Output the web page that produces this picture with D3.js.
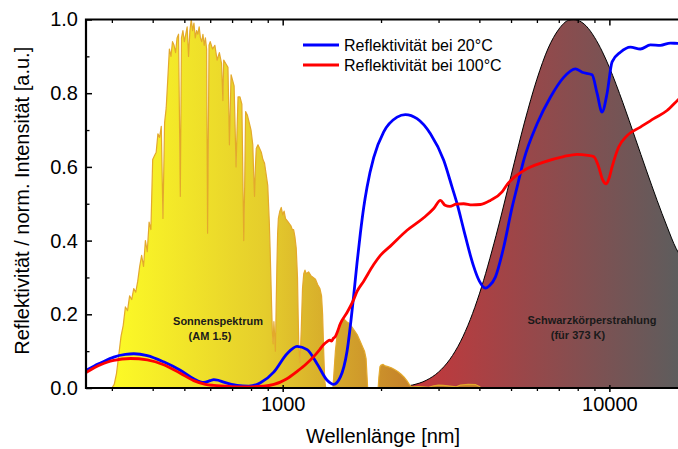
<!DOCTYPE html>
<html><head><meta charset="utf-8">
<script src="https://cdn.jsdelivr.net/npm/d3@7"></script>
<style>
body{margin:0;background:#fff;}
svg{display:block;font-family:"Liberation Sans",Arial,Helvetica,sans-serif;}
</style>
</head><body>
<svg id="chart" width="678" height="449"></svg>
<script>
// ---------- data ----------
const solarWavelength = [280,300,305,310,315,320,325,330,335,340,345,350,355,360,365,370,375,380,385,390,395,
  400,405,410,415,420,425,430,435,440,445,450,455,460,465,470,475,480,486,490,495,500,505,510,515,520,525,530,535,540,545,550,555,560,565,570,575,580,585,589,595,600,
  610,620,630,640,650,656,660,670,680,687,695,700,710,720,725,730,740,750,760,765,770,780,790,800,810,815,820,825,830,840,850,860,870,880,890,900,905,910,915,920,925,930,935,940,945,950,955,960,965,970,980,990,
  1000,1010,1020,1030,1040,1050,1060,1070,1080,1090,1100,1110,1115,1120,1130,1140,1150,1160,1170,1180,1200,1220,1240,1260,1280,1300,1315,1325,1335,1345,1355,
  1425,1435,1450,1470,1490,1510,1530,1550,1570,1600,1630,1660,1690,1720,1750,1780,1800,1810,1820,
  1960,1970,1985,2000,2030,2060,2100,2150,2200,2250,2300,2350,2400,2440,2480,2600,2800,2900,3000,3100,3200,3400,3500,3700,3900,4000,4050];
const solarIntensity = [0,0,0.01,0.04,0.09,0.14,0.17,0.22,0.21,0.25,0.24,0.27,0.26,0.29,0.33,0.36,0.33,0.40,0.37,0.45,0.43,
  0.62,0.63,0.64,0.69,0.68,0.71,0.46,0.72,0.76,0.84,0.92,0.90,0.94,0.93,0.91,0.95,0.96,0.52,0.95,0.97,0.94,0.96,0.98,0.90,0.97,1.0,0.97,0.99,0.95,0.97,0.96,0.98,0.95,0.94,0.96,0.93,0.95,0.92,0.42,0.93,0.94,
  0.92,0.93,0.89,0.91,0.88,0.78,0.89,0.88,0.87,0.66,0.85,0.84,0.82,0.60,0.70,0.79,0.79,0.77,0.40,0.55,0.75,0.74,0.72,0.70,0.66,0.58,0.52,0.60,0.65,0.66,0.65,0.64,0.62,0.61,0.58,0.55,0.50,0.45,0.38,0.30,0.22,0.15,0.12,0.18,0.14,0.10,0.22,0.33,0.42,0.46,0.48,0.49,
  0.47,0.48,0.46,0.455,0.45,0.445,0.44,0.43,0.43,0.41,0.38,0.30,0.20,0.12,0.07,0.16,0.27,0.31,0.32,0.31,0.315,0.305,0.30,0.295,0.28,0.27,0.25,0.20,0.10,0.02,0,
  0,0.04,0.10,0.15,0.17,0.18,0.19,0.185,0.18,0.175,0.165,0.155,0.145,0.13,0.115,0.10,0.08,0.04,0,
  0,0.03,0.058,0.062,0.064,0.06,0.058,0.055,0.05,0.045,0.038,0.03,0.02,0.01,0.003,0.004,0.002,0.006,0.008,0.007,0.006,0.003,0.008,0.01,0.009,0.004,0];

const blackbodyWavelength = [2000,2200,2500,2750,3000,3250,3500,3750,4000,4500,5000,5500,6000,6500,7000,7500,7770,8000,8500,9000,9500,10000,11000,12000,13000,14000,15000,16000,16450];
const blackbodyIntensity  = [0.0005,0.0019,0.0082,0.0208,0.0433,0.0779,0.1256,0.1855,0.2554,0.414,0.576,0.7217,0.838,0.9226,0.9735,0.998,1.0,0.998,0.982,0.952,0.914,0.870,0.774,0.678,0.589,0.509,0.439,0.379,0.36];

const blueWavelength = [250,265,277,304,330,350,385,432,486,534,573,600,615,635,660,725,787,855,939,1031,1107,1188,1274,1368,1433,1502,1574,1649,1689,1729,1770,1812,1899,2038,2240,2374,2578,2833,3111,3300,3419,3581,3754,3842,4000,4174,4300,4477,4747,5037,5217,5466,6008,6598,7246,7871,8250,8851,9168,9497,9840,10193,10806,11596,12443,13355,14326,15373,16266,16450];
const blueReflectivity = [0.048,0.06,0.068,0.084,0.091,0.093,0.088,0.071,0.048,0.025,0.015,0.02,0.023,0.021,0.016,0.007,0.005,0.014,0.043,0.093,0.113,0.104,0.066,0.021,0.010,0.030,0.10,0.25,0.34,0.42,0.49,0.545,0.625,0.695,0.735,0.742,0.731,0.69,0.618,0.545,0.50,0.43,0.36,0.33,0.29,0.271,0.278,0.301,0.382,0.49,0.545,0.618,0.717,0.789,0.843,0.866,0.857,0.85,0.80,0.749,0.80,0.885,0.911,0.925,0.92,0.931,0.93,0.936,0.935,0.935];

const redWavelength = [250,265,277,290,304,342,385,432,486,534,580,615,692,778,875,940,984,1030,1107,1180,1244,1300,1335,1368,1395,1410,1430,1450,1467,1502,1574,1649,1689,1770,1899,1991,2136,2403,2702,2900,3040,3140,3250,3400,3581,3800,4030,4321,4694,4863,5466,6295,7246,7965,8600,8954,9274,9540,9791,10000,10193,10678,11329,12443,13669,15018,16266,16450];
const redReflectivity = [0.042,0.055,0.063,0.07,0.075,0.080,0.076,0.063,0.040,0.020,0.010,0.007,0.004,0.003,0.005,0.010,0.016,0.025,0.045,0.065,0.085,0.105,0.118,0.126,0.13,0.127,0.135,0.14,0.15,0.175,0.205,0.24,0.262,0.29,0.335,0.36,0.385,0.428,0.462,0.487,0.509,0.496,0.493,0.499,0.5,0.497,0.498,0.509,0.532,0.552,0.59,0.613,0.628,0.634,0.631,0.628,0.60,0.565,0.554,0.572,0.60,0.654,0.685,0.708,0.731,0.753,0.783,0.787];

const xMajorTicks = [1000, 10000];
const xMinorTicks = [300,400,500,600,700,800,900,2000,3000,4000,5000,6000,7000,8000,9000];
const yMajorTicks = [0, 0.2, 0.4, 0.6, 0.8, 1.0];
const yMinorTicks = [0.1, 0.3, 0.5, 0.7, 0.9];

const legendLabels = ["Reflektivität bei 20°C", "Reflektivität bei 100°C"];
const xTitle = "Wellenlänge [nm]";
const yTitle = "Reflektivität / norm. Intensität [a.u.]";

// ---------- layout ----------
const svg = d3.select("#chart");
const L = 86, R = 680, T = 19.5, B = 388;
const x = d3.scaleLog().domain([250, 16450]).range([L, R]);
const y = d3.scaleLinear().domain([0, 1]).range([B, T]);

const defs = svg.append("defs");
defs.append("clipPath").attr("id","plotclip").append("rect")
  .attr("x", L).attr("y", T - 2).attr("width", R - L).attr("height", B - T + 2);

const gSun = defs.append("linearGradient").attr("id","sunGrad")
  .attr("gradientUnits","userSpaceOnUse").attr("x1",110).attr("x2",420).attr("y1",0).attr("y2",0);
gSun.append("stop").attr("offset","0%").attr("stop-color","#fdfb26");
gSun.append("stop").attr("offset","50%").attr("stop-color","#e5cd2c");
gSun.append("stop").attr("offset","100%").attr("stop-color","#c27b2a");

const gBB = defs.append("linearGradient").attr("id","bbGrad")
  .attr("gradientUnits","userSpaceOnUse").attr("x1",405).attr("x2",680).attr("y1",0).attr("y2",0);
gBB.append("stop").attr("offset","0%").attr("stop-color","#c8363a");
gBB.append("stop").attr("offset","100%").attr("stop-color","#5d5d5d");

const plot = svg.append("g").attr("clip-path","url(#plotclip)");

// blackbody
const bb = blackbodyWavelength.map((w,i)=>({w, v: blackbodyIntensity[i]}));
plot.append("path").datum(bb)
  .attr("d", d3.area().x(d=>x(d.w)).y0(y(0)).y1(d=>y(d.v)).curve(d3.curveMonotoneX))
  .attr("fill","url(#bbGrad)");
plot.append("path").datum(bb)
  .attr("d", d3.line().x(d=>x(d.w)).y(d=>y(d.v)).curve(d3.curveMonotoneX))
  .attr("fill","none").attr("stroke","#000").attr("stroke-width",1);

// solar spectrum
const sun = solarWavelength.map((w,i)=>({w, v: solarIntensity[i]}));
plot.append("path").datum(sun)
  .attr("d", d3.area().x(d=>x(d.w)).y0(y(0)).y1(d=>y(d.v)))
  .attr("fill","url(#sunGrad)");
plot.append("path").datum(sun)
  .attr("d", d3.line().x(d=>x(d.w)).y(d=>y(d.v)))
  .attr("fill","none").attr("stroke","#e3a92c").attr("stroke-width",1.2).attr("stroke-linejoin","round");

// reflectivity curves
const line = d3.line().x(d=>x(d.w)).y(d=>y(d.v)).curve(d3.curveMonotoneX);
const blue = blueWavelength.map((w,i)=>({w, v: blueReflectivity[i]}));
const red = redWavelength.map((w,i)=>({w, v: redReflectivity[i]}));
plot.append("path").datum(blue).attr("d", line)
  .attr("fill","none").attr("stroke","#0000ff").attr("stroke-width",2.8).attr("stroke-linejoin","round");
plot.append("path").datum(red).attr("d", line)
  .attr("fill","none").attr("stroke","#ff0000").attr("stroke-width",2.8).attr("stroke-linejoin","round");

// ---------- axes ----------
const fs = 20;
const bMaj = svg.append("g").attr("transform",`translate(0,${B})`)
  .call(d3.axisBottom(x).tickValues(xMajorTicks).tickFormat(d3.format("d")).tickSize(4).tickPadding(5));
bMaj.selectAll(".tick line").attr("y1",-3).attr("stroke-width",1.5);
const bMin = svg.append("g").attr("transform",`translate(0,${B})`)
  .call(d3.axisBottom(x).tickValues(xMinorTicks).tickFormat("").tickSize(3));
bMin.selectAll(".tick line").attr("stroke-width",1.3);
const tMaj = svg.append("g").attr("transform",`translate(0,${T})`)
  .call(d3.axisBottom(x).tickValues(xMajorTicks).tickFormat("").tickSize(6));
tMaj.selectAll(".tick line").attr("stroke-width",1.5);
const tMin = svg.append("g").attr("transform",`translate(0,${T})`)
  .call(d3.axisBottom(x).tickValues(xMinorTicks).tickFormat("").tickSize(3.5));
tMin.selectAll(".tick line").attr("stroke-width",1.3);
const lMaj = svg.append("g").attr("transform",`translate(${L},0)`)
  .call(d3.axisLeft(y).tickValues(yMajorTicks).tickFormat(d3.format(".1f")).tickSize(-6).tickPadding(8));
lMaj.selectAll(".tick line").attr("stroke-width",1.5);
const lMin = svg.append("g").attr("transform",`translate(${L},0)`)
  .call(d3.axisLeft(y).tickValues(yMinorTicks).tickFormat("").tickSize(-3.5));
lMin.selectAll(".tick line").attr("stroke-width",1.3);

svg.selectAll(".domain").remove();
svg.selectAll(".tick text").attr("font-size",fs).attr("font-family","'Liberation Sans',Arial,sans-serif").attr("fill","#000");

// frame
svg.append("path")
  .attr("d",`M${L},${T}H${R}V${B}H${L}Z`)
  .attr("fill","none").attr("stroke","#000").attr("stroke-width",2.2);

// titles
svg.append("text").attr("x",(L+R)/2).attr("y",443).attr("text-anchor","middle")
  .attr("font-size",fs).text(xTitle);
svg.append("text").attr("transform",`translate(29,${(T+B)/2 - 3}) rotate(-90)`)
  .attr("text-anchor","middle").attr("font-size",fs).text(yTitle);

// legend
const legColors = ["#0000ff","#ff0000"];
legendLabels.forEach((t,i)=>{
  const ly = 45 + i*20;
  svg.append("line").attr("x1",303).attr("x2",339).attr("y1",ly).attr("y2",ly)
    .attr("stroke",legColors[i]).attr("stroke-width",2.8);
  svg.append("text").attr("x",344).attr("y",ly).attr("dy","0.35em")
    .attr("font-size",16).text(t);
});

// annotations
const ann = [
  {t:"Sonnenspektrum", x:218, y:325},
  {t:"(AM 1.5)", x:210, y:340},
  {t:"Schwarzkörperstrahlung", x:592, y:324},
  {t:"(für 373 K)", x:578, y:339}
];
ann.forEach(a=>{
  svg.append("text").attr("x",a.x).attr("y",a.y).attr("text-anchor","middle")
    .attr("font-size",11).attr("font-weight","bold").attr("fill","#1a1a1a").text(a.t);
});
</script>
</body></html>
